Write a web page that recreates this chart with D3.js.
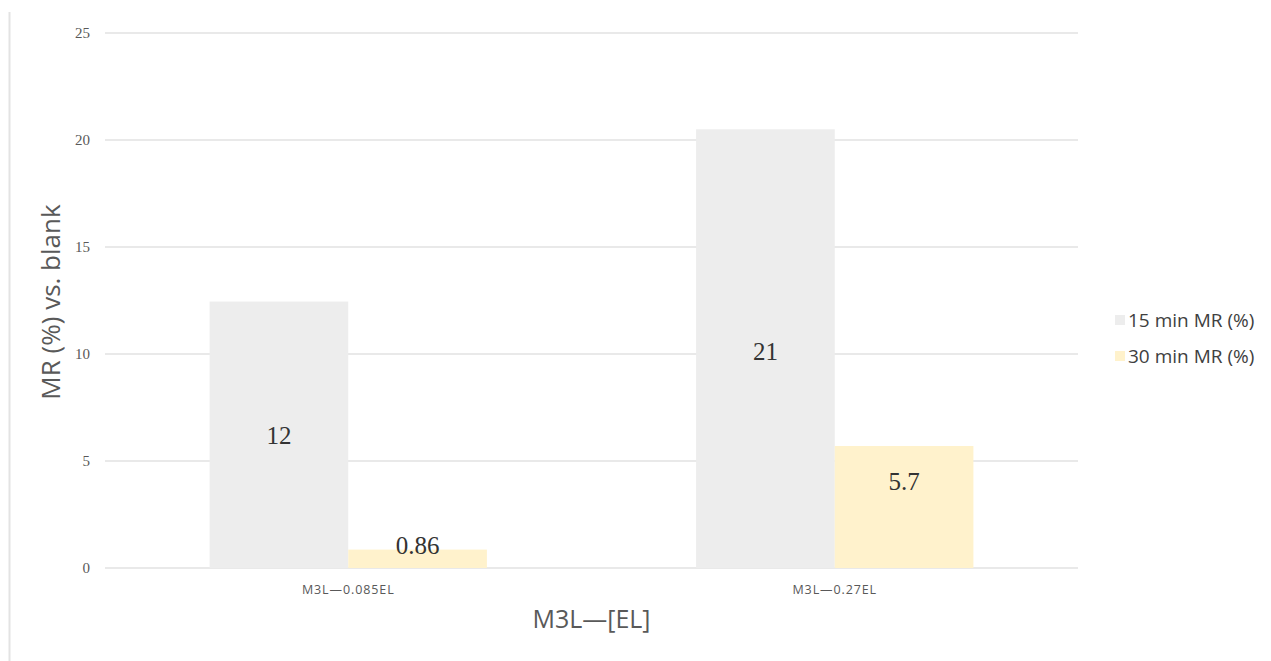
<!DOCTYPE html>
<html>
<head>
<meta charset="utf-8">
<script src="https://cdn.jsdelivr.net/npm/d3@7"></script>
<style>
	body { margin: 0; background: #fff; }
</style>
</head>
<body>
<div id="chart"></div>
<script>
// data
var categories = ["M3L\u20140.085EL", "M3L\u20140.27EL"];
var seriesNames = ["15 min MR (%)", "30 min MR (%)"];
var mr15 = [12.45, 20.5];
var mr30 = [0.86, 5.7];
var labels15 = ["12", "21"];
var labels30 = ["0.86", "5.7"];
// where each value label sits, in data units
var labelAt15 = [6.2, 10.15];
var labelAt30 = [1.05, 4.05];
var yTicks = [0, 5, 10, 15, 20, 25];

var colors = ["#ededed", "#fff2cc"];

var margin = {top: 33, right: 193, bottom: 93, left: 105};
var W = 1271, H = 661;
var width = W - margin.left - margin.right,
	height = H - margin.top - margin.bottom;

var svg = d3.select("#chart").append("svg")
	.attr("width", W)
	.attr("height", H);

// faint frame line on the left
svg.append("line")
	.attr("x1", 9.5).attr("x2", 9.5)
	.attr("y1", 12).attr("y2", H)
	.attr("stroke", "#e3e3e3")
	.attr("stroke-width", 2);

var g = svg.append("g")
	.attr("transform", "translate(" + margin.left + "," + margin.top + ")");

var x0 = d3.scaleBand()
	.domain(categories)
	.range([0, width])
	.paddingInner(0.43)
	.paddingOuter(0.215);

var x1 = d3.scaleBand()
	.domain(seriesNames)
	.range([0, x0.bandwidth()]);

var yScale = d3.scaleLinear()
	.domain([0, 25])
	.range([height, 0]);

// gridlines
g.selectAll(".grid")
	.data(yTicks)
	.enter()
	.append("line")
	.attr("x1", 0)
	.attr("x2", width)
	.attr("y1", function(d) { return yScale(d); })
	.attr("y2", function(d) { return yScale(d); })
	.attr("stroke", "#e2e2e2")
	.attr("stroke-width", 1.5);

// y tick labels
var yAxis = d3.axisLeft(yScale).tickValues(yTicks).tickSize(0).tickPadding(15);
var ya = g.append("g").call(yAxis);
ya.select(".domain").remove();
ya.selectAll("text")
	.attr("font-family", "Liberation Serif, serif")
	.attr("font-size", 15)
	.attr("fill", "#595959");

var rows = categories.map(function(c, i) {
	return {
		cat: c,
		bars: [
			{s: seriesNames[0], v: mr15[i], lab: labels15[i], at: labelAt15[i], c: colors[0]},
			{s: seriesNames[1], v: mr30[i], lab: labels30[i], at: labelAt30[i], c: colors[1]}
		]
	};
});

var groups = g.selectAll(".grp")
	.data(rows)
	.enter()
	.append("g")
	.attr("transform", function(d) { return "translate(" + x0(d.cat) + ",0)"; });

groups.selectAll("rect")
	.data(function(d) { return d.bars; })
	.enter()
	.append("rect")
	.attr("x", function(d) { return x1(d.s); })
	.attr("width", x1.bandwidth())
	.attr("y", function(d) { return yScale(d.v); })
	.attr("height", function(d) { return height - yScale(d.v); })
	.attr("fill", function(d) { return d.c; });

groups.selectAll(".vlab")
	.data(function(d) { return d.bars; })
	.enter()
	.append("text")
	.attr("x", function(d) { return x1(d.s) + x1.bandwidth() / 2; })
	.attr("y", function(d) { return yScale(d.at); })
	.attr("dy", "0.35em")
	.attr("text-anchor", "middle")
	.attr("font-family", "Liberation Serif, serif")
	.attr("font-size", 25)
	.attr("fill", "#333")
	.text(function(d) { return d.lab; });

// category labels
var xAxis = d3.axisBottom(x0).tickSize(0).tickPadding(17);
var xa = g.append("g")
	.attr("transform", "translate(0," + height + ")")
	.call(xAxis);
xa.select(".domain").remove();
xa.selectAll("text")
	.attr("font-family", "Open Sans, sans-serif")
	.attr("font-size", 12.5)
	.attr("letter-spacing", 0.9)
	.attr("fill", "#595959");

// axis titles
svg.append("text")
	.attr("x", margin.left + width / 2)
	.attr("y", 628)
	.attr("text-anchor", "middle")
	.attr("font-family", "Open Sans, sans-serif")
	.attr("font-size", 25)
	.attr("fill", "#595959")
	.text("M3L\u2014[EL]");

svg.append("text")
	.attr("transform", "translate(51," + 302 + ") rotate(-90)")
	.attr("text-anchor", "middle")
	.attr("dy", "0.35em")
	.attr("font-family", "Open Sans, sans-serif")
	.attr("font-size", 26)
	.attr("fill", "#595959")
	.text("MR (%) vs. blank");

// legend
var legend = svg.selectAll(".leg")
	.data(seriesNames)
	.enter()
	.append("g")
	.attr("transform", function(d, i) { return "translate(1115," + (320 + i * 36) + ")"; });
legend.append("rect")
	.attr("x", 0).attr("y", -5)
	.attr("width", 10).attr("height", 10)
	.attr("fill", function(d, i) { return colors[i]; });
legend.append("text")
	.attr("x", 13)
	.attr("dy", "0.35em")
	.attr("font-family", "Open Sans, sans-serif")
	.attr("font-size", 19)
	.attr("fill", "#404040")
	.text(function(d) { return d; });
</script>
</body>
</html>
